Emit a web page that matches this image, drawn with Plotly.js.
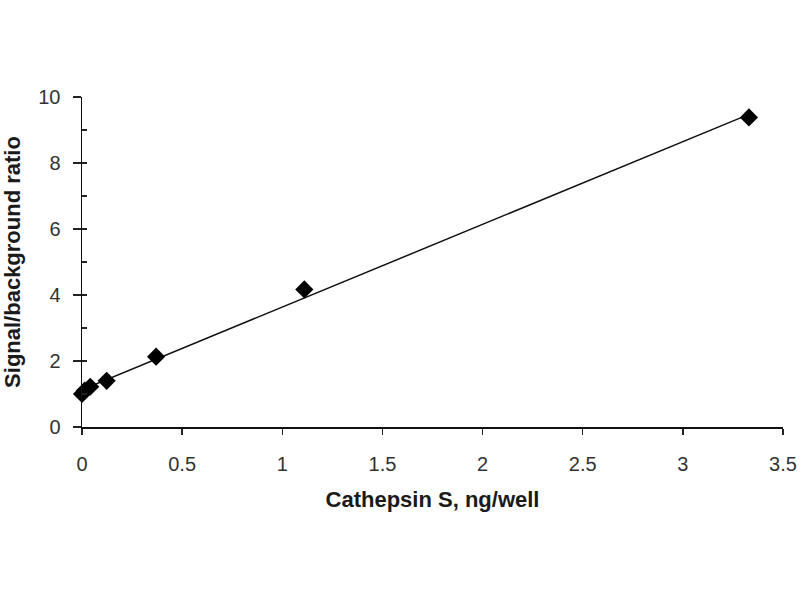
<!DOCTYPE html>
<html>
<head>
<meta charset="utf-8">
<script src="https://cdn.plot.ly/plotly-3.0.1.min.js"></script>
<style>
  html, body { margin: 0; padding: 0; background: #fff; }
  #chart { width: 800px; height: 600px; }
</style>
</head>
<body>
<div id="chart"></div>
<script>
// cathepsin S amount (ng/well) and signal/background ratio
let cathepsin_ng = [0, 0.0137, 0.041, 0.123, 0.37, 1.11, 3.33];
let signal_ratio = [1.0, 1.1, 1.22, 1.4, 2.13, 4.17, 9.38];

let x_ticks = [0, 0.5, 1, 1.5, 2, 2.5, 3, 3.5];
let x_tick_labels = ['0', '0.5', '1', '1.5', '2', '2.5', '3', '3.5'];
let y_ticks = [0, 2, 4, 6, 8, 10];
let y_tick_labels = ['0', '2', '4', '6', '8', '10'];

// least squares trend line over the measured points (like the excel trendline)
function LinearFit(xs, ys) {
    let n = xs.length;
    let mx = xs.reduce((a, b) => a + b, 0) / n;
    let my = ys.reduce((a, b) => a + b, 0) / n;
    let sxy = 0, sxx = 0;
    for (let i = 0; i < n; ++i) {
        sxy += (xs[i] - mx) * (ys[i] - my);
        sxx += (xs[i] - mx) * (xs[i] - mx);
    }
    let slope = sxy / sxx;
    return { slope: slope, intercept: my - slope * mx };
}

let fit = LinearFit(cathepsin_ng, signal_ratio);
let trend_x = [cathepsin_ng[0], cathepsin_ng[cathepsin_ng.length - 1]];
let trend_y = trend_x.map(x => fit.intercept + fit.slope * x);

let trend = {
    x: trend_x,
    y: trend_y,
    mode: 'lines',
    line: { color: '#111', width: 1.5 },
    hoverinfo: 'skip',
    showlegend: false
};

let points = {
    x: cathepsin_ng,
    y: signal_ratio,
    mode: 'markers',
    cliponaxis: false,
    marker: { symbol: 'diamond', size: 14, color: '#000' },
    showlegend: false
};

// invisible trace so the minor-tick overlay axis gets drawn
let ghost = {
    x: [0],
    y: [0],
    yaxis: 'y2',
    mode: 'markers',
    marker: { opacity: 0 },
    hoverinfo: 'skip',
    showlegend: false
};

let tick_font = { family: 'Liberation Sans, Arial, sans-serif', size: 20, color: '#333' };
let title_font = { family: 'Liberation Sans, Arial, sans-serif', size: 22, color: '#1a1a1a', weight: 'bold' };

let layout = {
    width: 800,
    height: 600,
    margin: { l: 82, r: 17, t: 97, b: 173 },
    paper_bgcolor: '#fff',
    plot_bgcolor: '#fff',
    xaxis: {
        range: [0, 3.5],
        tickvals: x_ticks,
        ticktext: x_tick_labels,
        ticks: 'outside',
        ticklen: 6,
        tickcolor: '#222',
        tickwidth: 1.5,
        ticklabelstandoff: 12,
        showline: true,
        linecolor: '#111',
        linewidth: 1.5,
        showgrid: false,
        zeroline: false,
        tickfont: tick_font,
        title: { text: 'Cathepsin S, ng/well', font: title_font, standoff: 18 },
        automargin: false
    },
    yaxis: {
        range: [0, 10],
        tickvals: y_ticks,
        ticktext: y_tick_labels,
        ticks: 'outside',
        ticklen: 8,
        tickcolor: '#222',
        tickwidth: 1.5,
        ticklabelstandoff: 8,
        showline: true,
        linecolor: '#111',
        linewidth: 1.5,
        showgrid: false,
        zeroline: false,
        tickfont: tick_font,
        title: { text: 'Signal/background ratio', font: title_font, standoff: 12 },
        automargin: false
    },
    yaxis2: {
        overlaying: 'y',
        side: 'left',
        range: [0, 10],
        dtick: 1,
        tick0: 0,
        ticks: 'inside',
        ticklen: 5,
        tickcolor: '#222',
        tickwidth: 1.5,
        showticklabels: false,
        showline: false,
        showgrid: false,
        zeroline: false
    }
};

Plotly.newPlot('chart', [trend, points, ghost], layout, { displayModeBar: false, staticPlot: true });
</script>
</body>
</html>
